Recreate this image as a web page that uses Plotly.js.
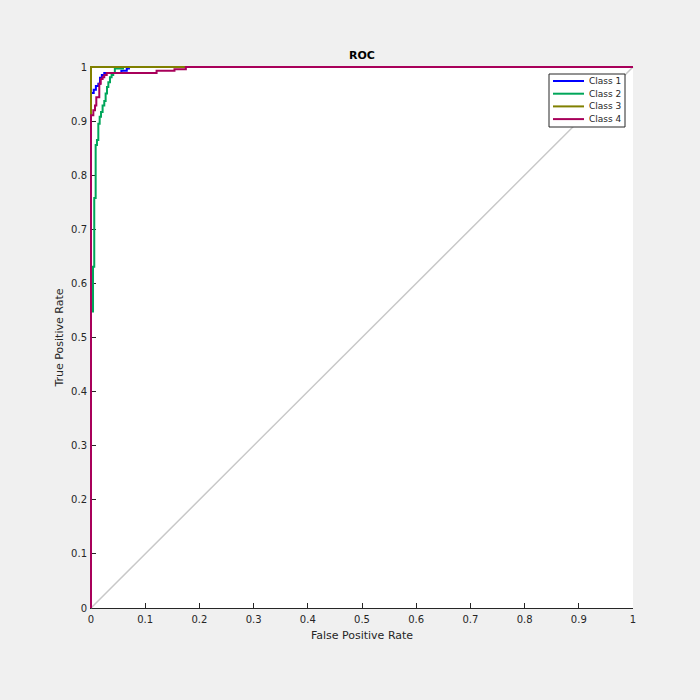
<!DOCTYPE html>
<html>
<head>
<meta charset="utf-8">
<script src="https://cdn.plot.ly/plotly-3.0.1.min.js"></script>
<style>html,body{margin:0;padding:0;background:#f0f0f0;}#chart{width:700px;height:700px;}</style>
</head>
<body>
<div id="chart"></div>
<script>
// Class 1 ROC (blue)
const fpr1 = [0, 0, 0.005, 0.005, 0.009, 0.009, 0.0135, 0.0135, 0.0166, 0.0166, 0.02, 0.02, 0.0245, 0.0245, 0.056, 0.056, 0.066, 0.066, 0.07, 0.07, 1];
const tpr1 = [0, 0.952, 0.952, 0.958, 0.958, 0.965, 0.965, 0.969, 0.969, 0.980, 0.980, 0.985, 0.985, 0.989, 0.989, 0.993, 0.993, 0.997, 0.997, 1, 1];
// Class 2 ROC (green)
const fpr2 = [0, 0, 0.0037, 0.0037, 0.006, 0.006, 0.0086, 0.0086, 0.011, 0.011, 0.0135, 0.0135, 0.016, 0.016, 0.0185, 0.0185, 0.0214, 0.0214, 0.0245, 0.0245, 0.027, 0.027, 0.0295, 0.0295, 0.032, 0.032, 0.035, 0.035, 0.038, 0.038, 0.041, 0.041, 0.044, 0.044, 0.059, 0.059, 1];
const tpr2 = [0, 0.548, 0.548, 0.631, 0.631, 0.758, 0.758, 0.856, 0.856, 0.865, 0.865, 0.895, 0.895, 0.908, 0.908, 0.917, 0.917, 0.929, 0.929, 0.937, 0.937, 0.951, 0.951, 0.963, 0.963, 0.972, 0.972, 0.981, 0.981, 0.985, 0.985, 0.989, 0.989, 0.997, 0.997, 1, 1];
// Class 3 ROC (olive)
const fpr3 = [0, 0, 1];
const tpr3 = [0, 1, 1];
// Class 4 ROC (maroon)
const fpr4 = [0, 0, 0.0043, 0.0043, 0.0074, 0.0074, 0.0098, 0.0098, 0.0153, 0.0153, 0.018, 0.018, 0.0214, 0.0214, 0.0245, 0.0245, 0.029, 0.029, 0.121, 0.121, 0.154, 0.154, 0.175, 0.175, 1];
const tpr4 = [0, 0.911, 0.911, 0.920, 0.920, 0.929, 0.929, 0.944, 0.944, 0.969, 0.969, 0.978, 0.978, 0.981, 0.981, 0.985, 0.985, 0.989, 0.989, 0.993, 0.993, 0.996, 0.996, 1, 1];
// chance diagonal
const diagX = [0, 1];
const diagY = [0, 1];

const names = ['Class 1', 'Class 2', 'Class 3', 'Class 4'];
const colors = ['#0000ff', '#00a65a', '#808000', '#a8005a'];
const tickVals = [0, 0.1, 0.2, 0.3, 0.4, 0.5, 0.6, 0.7, 0.8, 0.9, 1];
const tickText = ['0', '0.1', '0.2', '0.3', '0.4', '0.5', '0.6', '0.7', '0.8', '0.9', '1'];

const xs = [fpr1, fpr2, fpr3, fpr4];
const ys = [tpr1, tpr2, tpr3, tpr4];

// --- layout geometry (pixels) ---
const W = 700, H = 700;
const ML = 88, MR = 64, MT = 64, MB = 89;      // outer (unclipped drawing) box
const INSET = 3;                                 // visible axes sit INSET px inside
const PW = W - ML - MR, PH = H - MT - MB;        // 548 x 547
const IW = PW - 2 * INSET, IH = PH - 2 * INSET;  // 542 x 541
const fx = p => (p - ML) / PW;
const fy = p => (H - MB - p) / PH;

// visible axes on x/y (drawn first, below), curves on x2/y2 (drawn on top, wider clip)
const traces = [{x: [], y: [], xaxis: 'x', yaxis: 'y', showlegend: false, hoverinfo: 'skip'}];
traces.push({
  x: diagX, y: diagY, mode: 'lines', showlegend: false, hoverinfo: 'skip',
  xaxis: 'x2', yaxis: 'y2', line: {color: '#c8c8c8', width: 1.5}
});
for (let i = 0; i < 4; i++) {
  traces.push({
    x: xs[i], y: ys[i], mode: 'lines', name: names[i], showlegend: false,
    xaxis: 'x2', yaxis: 'y2', line: {color: colors[i], width: 2}
  });
}

const axisCommon = {
  range: [0, 1], tickvals: tickVals, ticktext: tickText,
  ticks: 'inside', ticklen: 5, tickwidth: 1, tickcolor: '#262626',
  showline: true, linecolor: '#262626', linewidth: 1, mirror: false,
  showgrid: false, zeroline: false, fixedrange: true,
  tickfont: {family: 'DejaVu Sans', size: 10, color: '#262626'}
};

const shapes = [
  // plot background (white) exactly behind visible axes
  {type: 'rect', xref: 'paper', yref: 'paper', layer: 'below',
   x0: fx(ML + INSET), x1: fx(ML + INSET + IW), y0: fy(MT + INSET + IH), y1: fy(MT + INSET),
   fillcolor: '#ffffff', line: {width: 0}},
  // legend box
  {type: 'rect', xref: 'paper', yref: 'paper', layer: 'above',
   x0: fx(549), x1: fx(625), y0: fy(127), y1: fy(74),
   fillcolor: '#ffffff', line: {color: '#262626', width: 1}}
];
const annotations = [];
for (let i = 0; i < 4; i++) {
  const py = 81 + i * 12.7;
  shapes.push({type: 'line', xref: 'paper', yref: 'paper', layer: 'above',
    x0: fx(553), x1: fx(584), y0: fy(py), y1: fy(py),
    line: {color: colors[i], width: 2}});
  annotations.push({xref: 'paper', yref: 'paper', x: fx(587), y: fy(py),
    xanchor: 'left', yanchor: 'middle', showarrow: false, text: names[i],
    font: {family: 'DejaVu Sans', size: 9, color: '#262626'}});
}

const ex = INSET / IW, ey = INSET / IH;
const layout = {
  width: W, height: H,
  paper_bgcolor: '#f0f0f0', plot_bgcolor: 'rgba(0,0,0,0)',
  margin: {l: ML, r: MR, t: MT, b: MB, pad: 0},
  font: {family: 'DejaVu Sans', color: '#262626'},
  showlegend: false,
  title: {
    text: 'ROC', x: fx(ML + INSET + IW / 2), xref: 'paper', xanchor: 'center',
    y: 1, yref: 'paper', yanchor: 'bottom', pad: {b: 5},
    font: {family: 'DejaVu Sans', size: 11, weight: 'bold', color: '#000000'}
  },
  xaxis: Object.assign({}, axisCommon, {
    domain: [INSET / PW, 1 - INSET / PW], anchor: 'y', ticklabelstandoff: 2,
    title: {text: 'False Positive Rate', standoff: 7, font: {family: 'DejaVu Sans', size: 11, color: '#262626'}}
  }),
  yaxis: Object.assign({}, axisCommon, {
    domain: [INSET / PH, 1 - INSET / PH], anchor: 'x', ticklabelstandoff: 1,
    title: {text: 'True Positive Rate', standoff: 5, font: {family: 'DejaVu Sans', size: 11, color: '#262626'}}
  }),
  xaxis2: {domain: [0, 1], range: [-ex, 1 + ex], anchor: 'y2', visible: false, fixedrange: true},
  yaxis2: {domain: [0, 1], range: [-ey, 1 + ey], anchor: 'x2', visible: false, fixedrange: true},
  shapes: shapes,
  annotations: annotations
};

Plotly.newPlot('chart', traces, layout, {displayModeBar: false, staticPlot: true});
</script>
</body>
</html>
